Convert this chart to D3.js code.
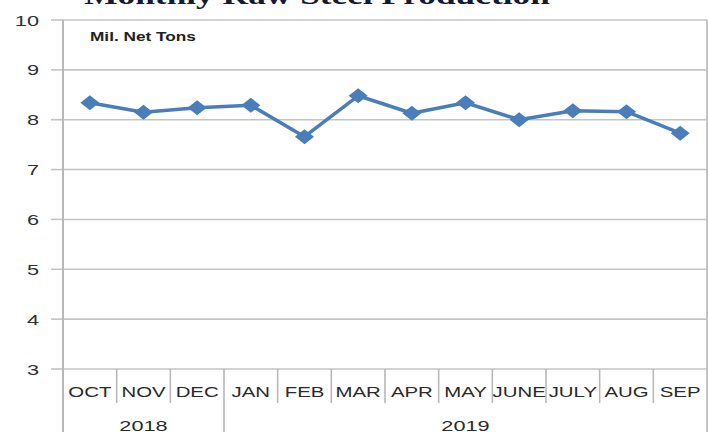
<!DOCTYPE html>
<html><head><meta charset="utf-8">
<script src="https://cdn.jsdelivr.net/npm/d3@7"></script>
<style>html,body{margin:0;padding:0;background:#fff;}svg{display:block;}</style>
</head><body>
<svg id="c" width="709" height="432"></svg>
<script>
const months = ["OCT","NOV","DEC","JAN","FEB","MAR","APR","MAY","JUNE","JULY","AUG","SEP"];
const values = [8.34, 8.15, 8.24, 8.29, 7.66, 8.48, 8.13, 8.34, 8.00, 8.18, 8.16, 7.73];
const yearLabels = ["2018","2019"];
const yearMonthCounts = [3, 9];
const yTicks = [3,4,5,6,7,8,9,10];
const titleText = "Monthly Raw Steel Production";
const unitText = "Mil. Net Tons";

const svg = d3.select("#c");
const L = 63, R = 707, T = 20, B = 369;
const x = d3.scaleBand().domain(months).range([L, R]).padding(0);
const y = d3.scaleLinear().domain([3, 10]).range([B, T]);
const grid = "#c4c4c4";
const SX = 1.36;

// title (cut off at top)
svg.append("text").attr("transform", `translate(317,4) scale(${SX},1)`)
  .attr("text-anchor","middle").attr("font-family","'Liberation Serif', serif")
  .attr("font-weight","bold").attr("font-size", 26).attr("fill","#151a2e").text(titleText);

// gridlines
svg.append("g").selectAll("line").data(yTicks).join("line")
  .attr("x1", L).attr("x2", R).attr("y1", d => y(d)).attr("y2", d => y(d))
  .attr("stroke", grid).attr("stroke-width", 1.6);
// tick marks
svg.append("g").selectAll("line").data(yTicks).join("line")
  .attr("x1", 51).attr("x2", L).attr("y1", d => y(d)).attr("y2", d => y(d))
  .attr("stroke", grid).attr("stroke-width", 1.6);
// tick labels
svg.append("g").selectAll("text").data(yTicks).join("text")
  .attr("transform", d => `translate(39,${y(d)+5.5}) scale(1.45,1)`)
  .attr("text-anchor","end").attr("font-family","'Liberation Sans', Arial, sans-serif")
  .attr("font-size", 15).attr("fill","#303030").text(d => d);

// borders
svg.append("line").attr("x1", L).attr("x2", L).attr("y1", T).attr("y2", 432)
  .attr("stroke", "#b8b8b8").attr("stroke-width", 2);
svg.append("line").attr("x1", R).attr("x2", R).attr("y1", T).attr("y2", 432)
  .attr("stroke", "#c4c4c4").attr("stroke-width", 2);

// month separators
const starts = [0];
yearMonthCounts.forEach((c,i) => starts.push(starts[i] + c));
const yearBoundaryIdx = starts.slice(1, -1);
svg.append("g").selectAll("line").data(months.slice(1)).join("line")
  .attr("x1", d => x(d)).attr("x2", d => x(d))
  .attr("y1", B).attr("y2", (d,i) => yearBoundaryIdx.includes(i+1) ? 432 : 403)
  .attr("stroke", "#b8b8b8").attr("stroke-width", 1.6);

// month labels
svg.append("g").selectAll("text").data(months).join("text")
  .attr("transform", d => `translate(${x(d)+x.bandwidth()/2},397) scale(${SX},1)`)
  .attr("text-anchor","middle").attr("font-family","'Liberation Sans', Arial, sans-serif")
  .attr("font-size", 15).attr("fill","#2a2a2a").text(d => d);

// year labels
svg.append("g").selectAll("text").data(yearLabels).join("text")
  .attr("transform", (d,i) => {
    const a = x(months[starts[i]]);
    const b = x(months[starts[i+1]-1]) + x.bandwidth();
    return `translate(${(a+b)/2},431) scale(1.45,1)`;
  })
  .attr("text-anchor","middle").attr("font-family","'Liberation Sans', Arial, sans-serif")
  .attr("font-size", 15).attr("fill","#2a2a2a").text(d => d);

// unit label
svg.append("text").attr("transform", `translate(90,41) scale(1.38,1)`)
  .attr("font-family","'Liberation Sans', Arial, sans-serif").attr("font-weight","bold")
  .attr("font-size", 12.5).attr("fill","#222").text(unitText);

// line
const cx = (d,i) => x(months[i]) + x.bandwidth()/2;
const line = d3.line().x((d,i) => cx(d,i)).y(d => y(d));
svg.append("path").datum(values).attr("d", line)
  .attr("fill","none").attr("stroke","#4a7ebb").attr("stroke-width",3.5).attr("stroke-linejoin","round");
// diamonds
const hw = 9.5, hh = 7.5;
svg.append("g").selectAll("path").data(values).join("path")
  .attr("d", (d,i) => {
    const px = cx(d,i), py = y(d);
    return `M${px-hw},${py}L${px},${py-hh}L${px+hw},${py}L${px},${py+hh}Z`;
  })
  .attr("fill","#4a7ebb");
</script>
</body></html>
